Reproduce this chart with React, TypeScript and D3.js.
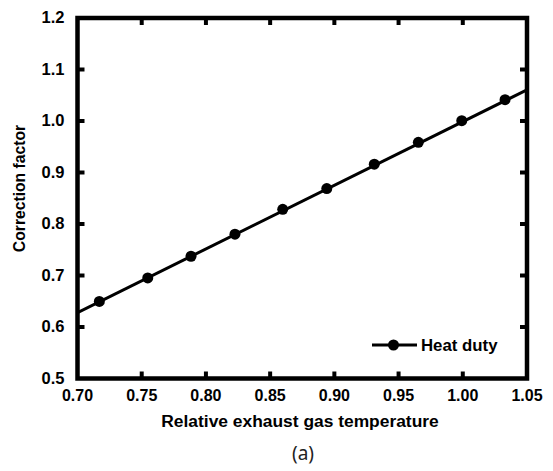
import React from "react";
import * as d3 from "d3";

const xValues = [0.717, 0.7547, 0.7884, 0.8226, 0.8598, 0.8941, 0.9311, 0.9654, 0.9992, 1.0329];
const heatDuty = [0.6497, 0.6953, 0.7374, 0.7803, 0.8285, 0.8688, 0.9162, 0.9585, 1.0006, 1.0415];
const fitX = [0.7, 1.05];
const fitY = [0.628, 1.0605];
const xTicks = [0.7, 0.75, 0.8, 0.85, 0.9, 0.95, 1.0, 1.05];
const yTicks = [0.5, 0.6, 0.7, 0.8, 0.9, 1.0, 1.1, 1.2];
const seriesName = "Heat duty";

const W = 553, H = 471;
const L = 77.5, R = 527, T = 18, B = 378.5;
const font = "'Liberation Sans', Arial, sans-serif";

export default function App() {
  const x = d3.scaleLinear().domain([0.7, 1.05]).range([L, R]);
  const y = d3.scaleLinear().domain([0.5, 1.2]).range([B, T]);
  const line = d3.line<[number, number]>().x(d => x(d[0])).y(d => y(d[1]));
  const fit: [number, number][] = fitX.map((v, i) => [v, fitY[i]]);
  return (
    <svg width={W} height={H} style={{ position: "absolute", left: 0, top: 0 }}>
      <rect x={0} y={0} width={W} height={H} fill="#fff" />
      <defs>
        <clipPath id="clip"><rect x={L} y={T} width={R - L} height={B - T} /></clipPath>
      </defs>
      <path d={line(fit) || ""} stroke="#000" strokeWidth={3} fill="none" clipPath="url(#clip)" />
      {xValues.map((v, i) => (
        <circle key={i} cx={x(v)} cy={y(heatDuty[i])} r={5.5} fill="#000" />
      ))}
      {xTicks.slice(1, -1).map((t, i) => (
        <g key={"xt" + i}>
          <line x1={x(t)} x2={x(t)} y1={B} y2={B - 7} stroke="#000" strokeWidth={4} />
          <line x1={x(t)} x2={x(t)} y1={T} y2={T + 7} stroke="#000" strokeWidth={4} />
        </g>
      ))}
      {yTicks.slice(1, -1).map((t, i) => (
        <g key={"yt" + i}>
          <line x1={L} x2={L + 7} y1={y(t)} y2={y(t)} stroke="#000" strokeWidth={4} />
          <line x1={R} x2={R - 7} y1={y(t)} y2={y(t)} stroke="#000" strokeWidth={4} />
        </g>
      ))}
      <rect x={L} y={T} width={R - L} height={B - T} fill="none" stroke="#000" strokeWidth={4.5} />
      {xTicks.map((t, i) => (
        <text key={"xl" + i} x={x(t)} y={401} textAnchor="middle" fontFamily={font} fontWeight="bold" fontSize={16}>
          {t.toFixed(2)}
        </text>
      ))}
      {yTicks.map((t, i) => (
        <text key={"yl" + i} x={64.5} y={y(t) + 5} textAnchor="end" fontFamily={font} fontWeight="bold" fontSize={16.5}>
          {t.toFixed(1)}
        </text>
      ))}
      <text x={300} y={427} textAnchor="middle" fontFamily={font} fontWeight="bold" fontSize={17.4}>
        Relative exhaust gas temperature
      </text>
      <text transform={`translate(25,188.5) rotate(-90)`} textAnchor="middle" fontFamily={font} fontWeight="bold" fontSize={15.7}>
        Correction factor
      </text>
      <line x1={372} x2={417} y1={345} y2={345} stroke="#000" strokeWidth={3} />
      <circle cx={393.5} cy={345} r={5.5} fill="#000" />
      <text x={421} y={351} fontFamily={font} fontWeight="bold" fontSize={16.8}>{seriesName}</text>
      <text x={303} y={460} textAnchor="middle" fontFamily="'Noto Sans', sans-serif" fontSize={19} fill="#222">(a)</text>
    </svg>
  );
}
